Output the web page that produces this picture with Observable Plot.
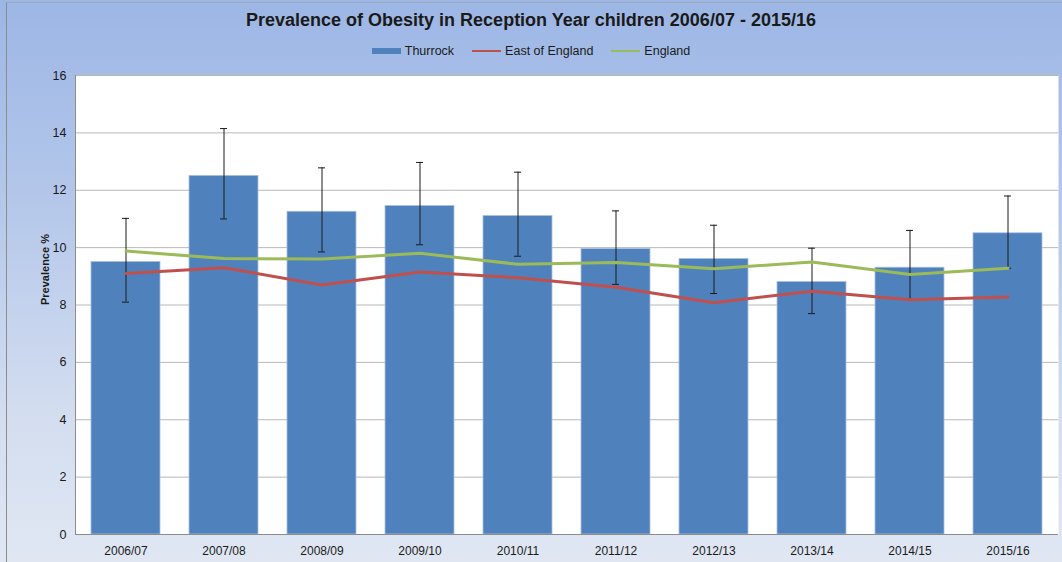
<!DOCTYPE html>
<html>
<head>
<meta charset="utf-8">
<script src="https://cdn.jsdelivr.net/npm/d3@7"></script>
<script src="https://cdn.jsdelivr.net/npm/@observablehq/plot@0.6"></script>
<style>
  html, body { margin: 0; padding: 0; }
  body { width: 1062px; height: 562px; overflow: hidden; font-family: "Liberation Sans", Arial, sans-serif; }
  #wrap { position: relative; width: 1062px; height: 562px;
    background: linear-gradient(to bottom, #9cb6e5 0%, #b4c7ea 35%, #d4def0 75%, #e0e7f3 100%); }
  #frame { position: absolute; left: 6px; top: 2px; width: 1060px; height: 562px; border-left: 1px solid #8c8c8c; border-top: 1px solid #a0a8b8; box-sizing: border-box; pointer-events: none; }
  #title { position: absolute; left: 0; top: 10px; width: 1062px; text-align: center; font-weight: bold; font-size: 18px; color: #1a1a1a; }
  #legend { position: absolute; top: 43px; left: 0; width: 1062px; height: 16px; display: flex; justify-content: center; align-items: center; font-size: 12.5px; color: #1a1a1a; }
  #legend span.item { display: flex; align-items: center; margin: 0 9px; }
  #legend .sw { display: block; width: 29px; margin-right: 4px; }
  #chart { position: absolute; left: 0; top: 0; }
</style>
</head>
<body>
<div id="wrap">
  <div id="title">Prevalence of Obesity in Reception Year children 2006/07 - 2015/16</div>
  <div id="legend"></div>
  <div id="chart"></div>
  <div id="frame"></div>
</div>
<script>
const years = ["2006/07","2007/08","2008/09","2009/10","2010/11","2011/12","2012/13","2013/14","2014/15","2015/16"];
const thurrock = [9.5, 12.5, 11.25, 11.45, 11.1, 9.95, 9.6, 8.8, 9.3, 10.5];
const thurrockLower = [8.1, 11.0, 9.85, 10.1, 9.7, 8.72, 8.4, 7.7, 8.2, 9.28];
const thurrockUpper = [11.02, 14.15, 12.78, 12.97, 12.63, 11.28, 10.78, 9.98, 10.6, 11.8];
const eastOfEngland = [9.1, 9.3, 8.7, 9.15, 8.95, 8.62, 8.08, 8.48, 8.18, 8.28];
const england = [9.88, 9.62, 9.6, 9.8, 9.42, 9.48, 9.26, 9.5, 9.06, 9.28];
const yTicks = [0, 2, 4, 6, 8, 10, 12, 14, 16];
const seriesNames = ["Thurrock", "East of England", "England"];
const seriesColors = ["#4f81bd", "#c0504d", "#9bbb59"];

const bars = years.map((y, i) => ({year: y, value: thurrock[i], lo: thurrockLower[i], hi: thurrockUpper[i]}));
const lines = [];
years.forEach((y, i) => lines.push({year: y, series: "East of England", value: eastOfEngland[i]}));
years.forEach((y, i) => lines.push({year: y, series: "England", value: england[i]}));

// legend
const leg = document.getElementById("legend");
seriesNames.forEach((n, i) => {
  const s = document.createElement("span");
  s.className = "item";
  const sw = document.createElement("span");
  sw.className = "sw";
  sw.style.height = i === 0 ? "6px" : "2px";
  sw.style.background = seriesColors[i];
  s.appendChild(sw);
  const t = document.createElement("span");
  t.textContent = n;
  s.appendChild(t);
  leg.appendChild(s);
});

const chart = Plot.plot({
  width: 1062,
  height: 562,
  marginTop: 75,
  marginBottom: 28,
  marginLeft: 75,
  marginRight: 4,
  style: {background: "transparent", fontFamily: "Liberation Sans, Arial, sans-serif", fontSize: "12px", color: "#1a1a1a"},
  x: {domain: years, paddingInner: 0.3, paddingOuter: 0.15, label: null, tickSize: 0, tickPadding: 12},
  y: {domain: [0, 16], ticks: yTicks, label: null, tickSize: 0, tickPadding: 9},
  color: {domain: seriesNames, range: seriesColors},
  marks: [
    Plot.frame({fill: "white", stroke: null}),
    Plot.gridY(yTicks, {stroke: "#b8b8b8", strokeOpacity: 1, strokeWidth: 1}),
    Plot.barY(bars, {x: "year", y: "value", fill: "#4f81bd", stroke: "#a9c0df", strokeWidth: 0.8}),
    Plot.ruleX(bars, {x: "year", y1: "lo", y2: "hi", stroke: "#1a1a1a", strokeWidth: 1}),
    Plot.tickY(bars, {x: "year", y: "hi", stroke: "#1a1a1a", strokeWidth: 1, insetLeft: 31, insetRight: 31}),
    Plot.tickY(bars, {x: "year", y: "lo", stroke: "#1a1a1a", strokeWidth: 1, insetLeft: 31, insetRight: 31}),
    Plot.line(lines, {x: "year", y: "value", z: "series", stroke: "series", strokeWidth: 3}),
    Plot.frame({anchor: "left", stroke: "#8c8c8c"}),
    Plot.ruleY([0], {stroke: "#8c8c8c"}),
    Plot.axisX({tickSize: 0, tickPadding: 12, fontSize: 12}),
    Plot.axisY(yTicks, {tickSize: 0, tickPadding: 9, fontSize: 12.5}),
    Plot.text(["Prevalence %"], {frameAnchor: "left", dx: -30, rotate: -90, fontWeight: "bold", fontSize: 11, fill: "#1a1a1a"})
  ]
});
document.getElementById("chart").appendChild(chart);
</script>
</body>
</html>
